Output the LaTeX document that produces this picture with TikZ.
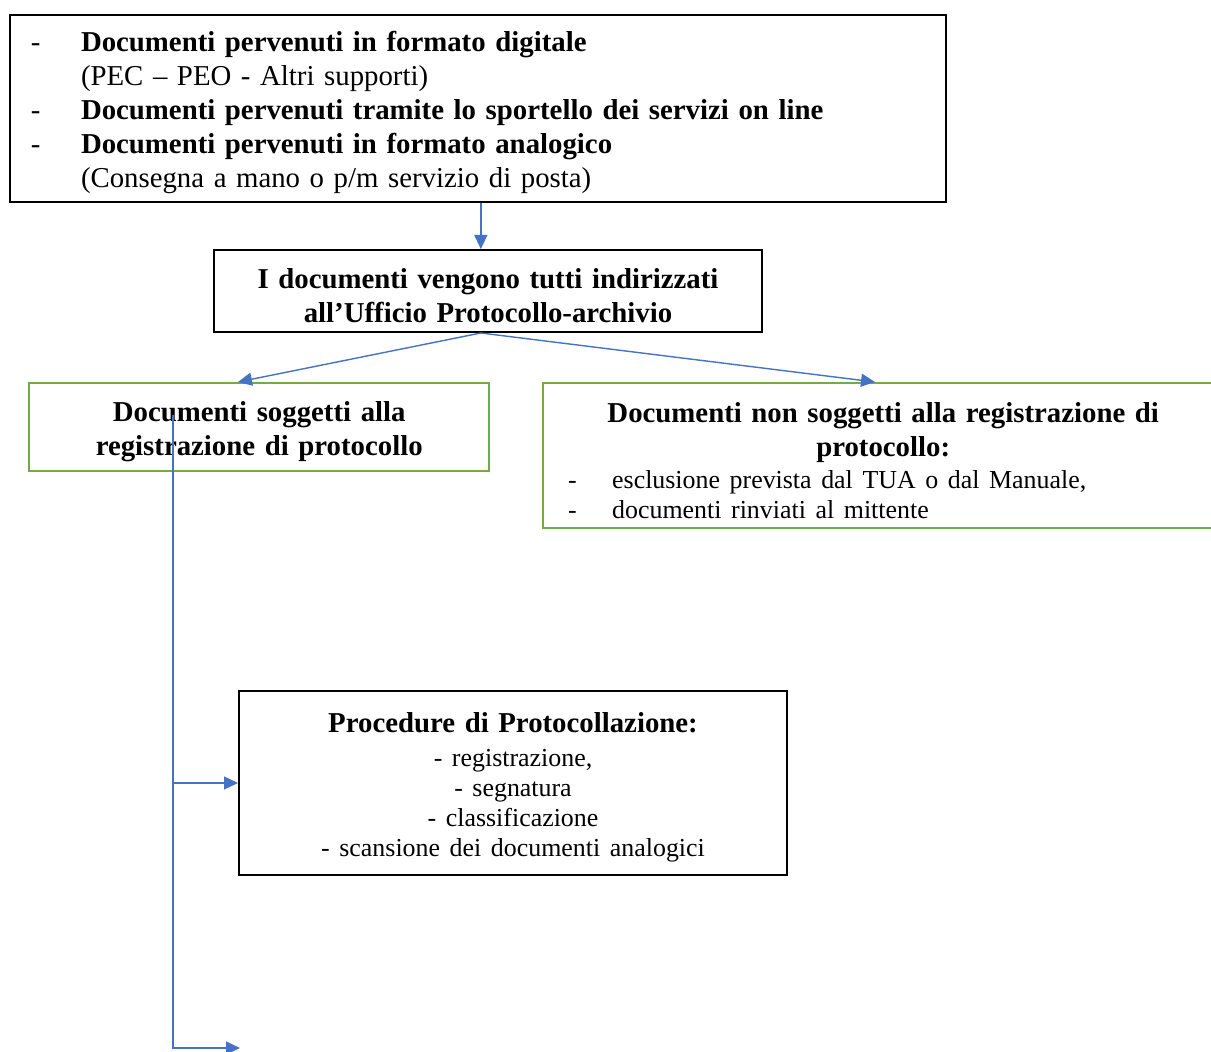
\documentclass[tikz,border=0pt]{standalone}
\usepackage{fontspec}
\setmainfont{Liberation Serif}
\usepackage{tikz}
\usetikzlibrary{positioning, arrows.meta, calc}
\definecolor{linkblue}{HTML}{4472C4}
\definecolor{boxgreen}{HTML}{70AD47}
\newcommand{\bigsz}{\fontsize{14.4pt}{17pt}\selectfont}
\newcommand{\smallsz}{\fontsize{12.95pt}{15pt}\selectfont}
\newcommand{\dashline}[2]{\makebox[#1][l]{-}#2}
\newcommand{\topstrut}{\rule{0pt}{14.5pt}}
\tikzset{
    blackbox/.style={rectangle,draw=black,line width=1pt,anchor=north west,inner ysep=0pt,font=\bigsz},
    greenbox/.style={rectangle,draw=boxgreen,line width=1.2pt,anchor=north west,inner ysep=0pt,font=\bigsz},
    link/.style={draw=linkblue,line width=0.7pt,-{Triangle[length=7pt,width=6.5pt]}}
}

\begin{document}
\begin{tikzpicture}[x=0.5pt,y=-0.5pt]
    \useasboundingbox (0,0) rectangle (1211,1052);
    \node (incoming) at (9,14) [blackbox,minimum width=468pt,minimum height=93.5pt,text width=447pt,inner xsep=10.5pt,align=left]
        {\topstrut\dashline{25pt}{\textbf{Documenti pervenuti in formato digitale}}\\
         \hspace*{25pt}(PEC -- PEO - Altri supporti)\\
         \dashline{25pt}{\textbf{Documenti pervenuti tramite lo sportello dei servizi on line}}\\
         \dashline{25pt}{\textbf{Documenti pervenuti in formato analogico}}\\
         \hspace*{25pt}(Consegna a mano o p/m servizio di posta)\par};
    \node (ufficio) at (213,249) [blackbox,minimum width=274pt,minimum height=41pt,text width=260pt,align=center]
        {\topstrut\bfseries I documenti vengono tutti indirizzati\\ all'Ufficio Protocollo-archivio\par};
    \node (soggetti) at (28,382) [greenbox,minimum width=230pt,minimum height=44pt,text width=220pt,align=center]
        {\topstrut\bfseries Documenti soggetti alla\\ registrazione di protocollo\par};
    \node (nonsoggetti) at (542,382) [greenbox,minimum width=340pt,minimum height=72.5pt,text width=315pt,inner xsep=12.5pt,align=left]
        {{\centering\bfseries\topstrut Documenti non soggetti alla registrazione di\\ protocollo:\par}
         \vskip 1pt
         \smallsz\dashline{22pt}{esclusione prevista dal TUA o dal Manuale,}\\
         \dashline{22pt}{documenti rinviati al mittente}\par};
    \node (procedure) at (238,690) [blackbox,minimum width=274pt,minimum height=92pt,text width=260pt,align=center]
        {{\bfseries\topstrut Procedure di Protocollazione:\par}
         \vskip 2pt
         \smallsz - registrazione,\\ - segnatura\\ - classificazione\\ - scansione dei documenti analogici\par};
    \coordinate (tap) at (173,415);
    \coordinate (loose) at (240,1048);
    \coordinate (drop) at ($(incoming.south west)!0.503!(incoming.south east)$);
    \coordinate (fork) at ($(ufficio.south west)!0.487!(ufficio.south east)$);
    \draw[link] (drop) -- (drop |- ufficio.north);
    \draw[link] (fork) -- ($(soggetti.north west)!0.454!(soggetti.north east)$);
    \draw[link] (fork) -- ($(nonsoggetti.north west)!0.488!(nonsoggetti.north east)$);
    \draw[link] (tap) |- (procedure.west);
    \draw[link] (tap) |- (loose);
\end{tikzpicture}
\end{document}
